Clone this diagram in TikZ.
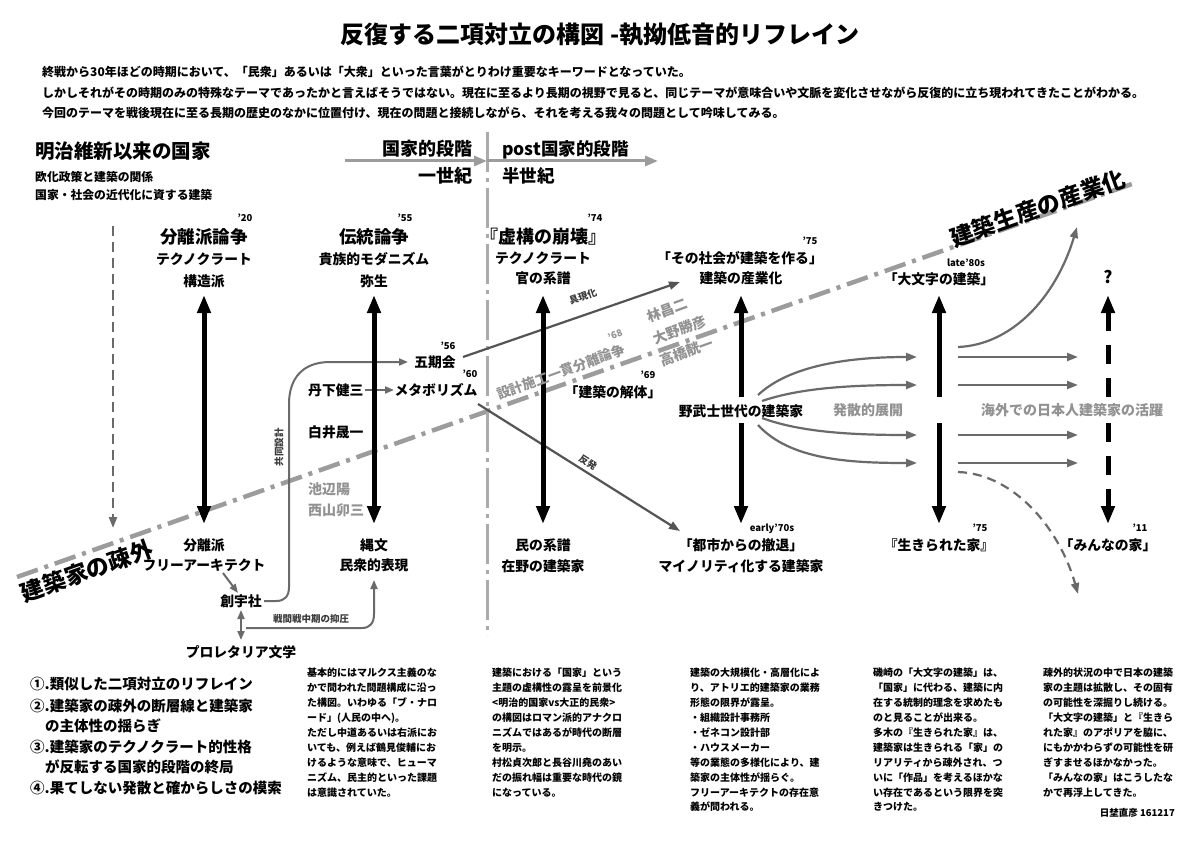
\documentclass[tikz,border=0pt]{standalone}
\usepackage{fontspec}
\setmainfont{Noto Sans CJK JP}
\usetikzlibrary{arrows.meta}
\definecolor{dashgray}{HTML}{9C9C9C}
\definecolor{vgray}{HTML}{ABABAB}
\definecolor{arrgray}{HTML}{6A6A6A}
\definecolor{darkarr}{HTML}{545454}
\definecolor{txtgray}{HTML}{929292}
\definecolor{lblgray}{HTML}{3A3A3A}
\newcommand{\fsz}[1]{\fontsize{#1}{#1}\selectfont}
\tikzset{
  bigtip/.tip={Triangle[length=18pt,width=13pt]},
  gtip/.tip={Triangle[length=11pt,width=8pt]},
  stip/.tip={Triangle[length=9pt,width=7pt]},
  tx/.style={inner sep=0pt, text=black},
  hd/.style={tx, font=\bfseries\fsz{17.5}},
  sb/.style={tx, font=\bfseries\fsz{13.8}},
  yr/.style={tx, font=\bfseries\fsz{9.5}},
  gsb/.style={inner sep=0pt, text=txtgray, font=\bfseries\fsz{14}},
  lbl/.style={inner sep=0pt, text=lblgray, font=\bfseries\fsz{9.5}},
  lst/.style={tx, anchor=west, font=\bfseries\fsz{14.5}},
  para/.style={tx, anchor=north west, align=left, font=\bfseries\fontsize{10}{14.9}\selectfont},
  intro/.style={tx, anchor=west, font=\bfseries\fsz{12}},
  bigboth/.style={draw=black, line width=5pt, bigtip-bigtip},
  bigone/.style={draw=black, line width=5pt, -bigtip},
  garr/.style={draw=arrgray, line width=2.2pt, -gtip},
  darr/.style={draw=darkarr, line width=2.2pt, -gtip},
  sarr/.style={draw=arrgray, line width=2pt, -stip},
  stagearr/.style={draw=dashgray, line width=3pt, -{Triangle[length=13pt,width=10pt]}},
  mainline/.style={draw=dashgray, line width=4.5pt, dash pattern=on 22pt off 7pt on 4pt off 7pt},
  vline/.style={draw=vgray, line width=3pt, dash pattern=on 40pt off 6pt on 4pt off 6pt},
}
\begin{document}
\begin{tikzpicture}[x=1pt,y=-1pt]
\fill[white] (0,0) rectangle (1200,848);
\useasboundingbox (0,0) rectangle (1200,848);

% ---------- coordinates ----------
\coordinate (ml0) at (17,577);
\coordinate (ml1) at (1132,184);
\coordinate (vt) at (487,132);
\coordinate (vb) at (487,636);
\coordinate (sa0) at (345,161);
\coordinate (sa1) at (487,161);
\coordinate (sa2) at (658,161);
\coordinate (ld0) at (113,226);
\coordinate (ld1) at (113,528);

% ---------- dash-dot lines ----------
\draw[mainline] (ml0) -- (ml1);
\draw[vline] (vt) -- (vb);
\draw[stagearr] (sa0) -- (sa1);
\draw[stagearr] (sa1) -- (sa2);
\draw[draw=arrgray, line width=2.3pt, dash pattern=on 10pt off 6pt, -gtip] (ld0) -- (ld1);

% ---------- gray connectors ----------
\coordinate (gk) at (463,357);
\coordinate (gu) at (680,282);
\draw[darr] (gk) -- (gu);
\coordinate (mb) at (478,404);
\coordinate (ht) at (680,531);
\draw[darr] (mb) -- (ht);
\coordinate (tg0) at (365,390);
\coordinate (tg1) at (394,390);
\draw[sarr] (tg0) -- (tg1);
\coordinate (fr0) at (223,573);
\coordinate (fr1) at (238,593);
\draw[sarr] (fr0) -- (fr1);
\coordinate (sp0) at (241,610);
\coordinate (sp1) at (241,640);
\draw[draw=arrgray, line width=2pt, stip-stip] (sp0) -- (sp1);
\coordinate (kd0) at (264,601);
\coordinate (kd1) at (408,362);
\draw[draw=arrgray, line width=2pt, -stip] (kd0) -- (276,601) .. controls (285,601) and (289,596) .. (289,587) -- (289,404) .. controls (289,378) and (303,362) .. (330,362) -- (kd1);
\coordinate (sk0) at (246,628);
\coordinate (sk1) at (374,580);
\draw[draw=arrgray, line width=2pt, -stip] (sk0) -- (362,628) .. controls (370,628) and (374,623) .. (374,614) -- (sk1);

% fan from nobushi
\coordinate (f1a) at (758,395); \coordinate (f1b) at (917,357);
\coordinate (f2a) at (762,401); \coordinate (f2b) at (917,385);
\coordinate (f3a) at (762,418); \coordinate (f3b) at (917,435);
\coordinate (f4a) at (758,425); \coordinate (f4b) at (917,463);
\draw[garr] (f1a) .. controls (790,365) and (850,357) .. (f1b);
\draw[garr] (f2a) .. controls (800,388) and (850,385) .. (f2b);
\draw[garr] (f3a) .. controls (800,432) and (850,435) .. (f3b);
\draw[garr] (f4a) .. controls (790,460) and (850,463) .. (f4b);
% from col5 to col6
\coordinate (r1a) at (958,357); \coordinate (r1b) at (1078,357);
\coordinate (r2a) at (958,385); \coordinate (r2b) at (1078,385);
\coordinate (r3a) at (958,435); \coordinate (r3b) at (1078,435);
\coordinate (r4a) at (958,463); \coordinate (r4b) at (1078,463);
\draw[garr] (r1a) -- (r1b);
\draw[garr] (r2a) -- (r2b);
\draw[garr] (r3a) -- (r3b);
\draw[garr] (r4a) -- (r4b);
\coordinate (cu0) at (958,347); \coordinate (cu1) at (1077,227);
\draw[garr] (cu0) .. controls (1010,345) and (1055,300) .. (cu1);
\coordinate (cd0) at (958,472); \coordinate (cd1) at (1078,594);
\draw[garr, dash pattern=on 9pt off 6pt] (cd0) .. controls (1015,474) and (1060,530) .. (cd1);

% ---------- black arrows ----------
\coordinate (a1t) at (204,295); \coordinate (a1b) at (204,524);
\coordinate (a2t) at (374,295); \coordinate (a2b) at (374,524);
\coordinate (a3t) at (543,295); \coordinate (a3b) at (543,524);
\draw[bigboth] (a1t) -- (a1b);
\draw[bigboth] (a2t) -- (a2b);
\draw[bigboth] (a3t) -- (a3b);
\coordinate (a4t) at (741,295); \coordinate (a4m1) at (741,397);
\coordinate (a4m2) at (741,423); \coordinate (a4b) at (741,524);
\draw[bigone] (a4m1) -- (a4t);
\draw[bigone] (a4m2) -- (a4b);
\coordinate (a5t) at (939,295); \coordinate (a5m1) at (939,397);
\coordinate (a5m2) at (939,423); \coordinate (a5b) at (939,524);
\draw[bigone] (a5m1) -- (a5t);
\draw[bigone] (a5m2) -- (a5b);
\coordinate (a6t) at (1108,295); \coordinate (a6m1) at (1108,397);
\coordinate (a6m2) at (1108,423); \coordinate (a6b) at (1108,524);
\draw[bigone, dash pattern=on 19pt off 14pt] (a6m1) -- (a6t);
\draw[bigone, dash pattern=on 19pt off 14pt] (a6m2) -- (a6b);

% ---------- header texts ----------
\node[tx, font=\bfseries\fsz{24}] (title) at (600,35) {反復する二項対立の構図 -執拗低音的リフレイン};
\node[intro] (in1) at (42,72) {終戦から30年ほどの時期において、「民衆」あるいは「大衆」といった言葉がとりわけ重要なキーワードとなっていた。};
\node[intro] (in2) at (42,93) {しかしそれがその時期のみの特殊なテーマであったかと言えばそうではない。現在に至るより長期の視野で見ると、同じテーマが意味合いや文脈を変化させながら反復的に立ち現われてきたことがわかる。};
\node[intro] (in3) at (42,113) {今回のテーマを戦後現在に至る長期の歴史のなかに位置付け、現在の問題と接続しながら、それを考える我々の問題として吟味してみる。};

\node[tx, anchor=west, font=\bfseries\fsz{19.5}] (meiji) at (35,151) {明治維新以来の国家};
\node[tx, anchor=west, font=\bfseries\fsz{11.8}] (ouka) at (35,177) {欧化政策と建築の関係};
\node[tx, anchor=west, font=\bfseries\fsz{11.8}] (kindai) at (35,195) {国家・社会の近代化に資する建築};

\node[tx, anchor=east, font=\bfseries\fsz{18}] (st1) at (473,149) {国家的段階};
\node[tx, anchor=east, font=\bfseries\fsz{18}] (st1b) at (473,176) {一世紀};
\node[tx, anchor=west, font=\bfseries\fsz{17.5}] (st2) at (502,150) {post国家的段階};
\node[tx, anchor=west, font=\bfseries\fsz{17.5}] (st2b) at (502,176) {半世紀};

% ---------- column 1 ----------
\node[yr] (y20) at (245,218) {'20};
\node[hd] (bunri) at (204,237) {分離派論争};
\node[sb] (tech1) at (204,259) {テクノクラート};
\node[sb] (kozo) at (204,281) {構造派};
\node[sb] (bunri2) at (204,545) {分離派};
\node[sb] (free) at (204,565) {フリーアーキテクト};
\node[sb] (sou) at (241,601) {創宇社};
\node[sb] (prol) at (241,652) {プロレタリア文学};
\node[lbl, rotate=90] (kyodo) at (279,447) {共同設計};
\node[lbl] (senkan) at (311,619) {戦間戦中期の抑圧};

% ---------- column 2 ----------
\node[yr] (y55) at (405,218) {'55};
\node[hd] (dento) at (374,237) {伝統論争};
\node[sb] (kizoku) at (374,259) {貴族的モダニズム};
\node[sb] (yayoi) at (374,281) {弥生};
\node[sb] (jomon) at (374,545) {縄文};
\node[sb] (minshu) at (374,565) {民衆的表現};
\node[sb, anchor=west] (tange) at (308,390) {丹下健三};
\node[sb, anchor=west] (shirai) at (308,432) {白井晟一};
\node[gsb, anchor=west] (ikebe) at (308,489) {池辺陽};
\node[gsb, anchor=west] (nishi) at (308,510) {西山卯三};
\node[sb] (gokikai) at (435,362) {五期会};
\node[yr] (y56) at (448,346) {'56};
\node[sb] (metabo) at (436,390) {メタボリズム};
\node[yr] (y60) at (470,374) {'60};

% ---------- column 3 ----------
\node[yr] (y74) at (595,218) {'74};
\node[tx, font=\bfseries\fsz{18}] (kyoko) at (543,237) {『虚構の崩壊』};
\node[sb] (tech3) at (543,258) {テクノクラート};
\node[sb] (kan) at (543,278) {官の系譜};
\node[sb] (tami) at (543,545) {民の系譜};
\node[sb] (zaiya) at (543,566) {在野の建築家};
\node[yr] (y69) at (648,375) {'69};
\node[sb] (kaitai) at (613,392) {「建築の解体」};
\node[lbl, rotate=19] (gugen) at (583,297) {具現化};
\node[lbl, rotate=-32] (hanpatsu) at (588,462) {反発};
\node[gsb, font=\bfseries\fsz{13.5}, rotate=20] (sekkei) at (561,372) {設計施工一貫分離論争};
\node[gsb, font=\bfseries\fsz{9.5}, rotate=20] (y68) at (615,335) {'68};
\node[gsb, rotate=20] (hayashi) at (667,310) {林昌二};
\node[gsb, rotate=20] (ono) at (680,330) {大野勝彦};
\node[gsb, rotate=20] (taka) at (687,352) {高橋靗一};

% ---------- column 4 ----------
\node[yr] (y75a) at (810,241) {'75};
\node[sb] (sono) at (740,258) {「その社会が建築を作る」};
\node[sb] (sangyo) at (741,278) {建築の産業化};
\node[sb] (nobushi) at (741,411) {野武士世代の建築家};
\node[yr] (e70) at (772,529) {early'70s};
\node[sb] (toshi) at (741,545) {「都市からの撤退」};
\node[sb] (minor) at (741,566) {マイノリティ化する建築家};
\node[gsb] (hassan) at (868,410) {発散的展開};

% ---------- column 5 / 6 ----------
\node[yr] (l80) at (966,263) {late'80s};
\node[sb] (omoji) at (939,279) {「大文字の建築」};
\node[yr] (y75b) at (980,528) {'75};
\node[sb] (ikira) at (939,545) {『生きられた家』};
\node[gsb] (kaigai) at (1072,410) {海外での日本人建築家の活躍};
\node[tx, font=\bfseries\fsz{17}] (q) at (1108,277) {?};
\node[yr] (y11) at (1140,528) {'11};
\node[sb] (minna) at (1108,545) {「みんなの家」};

% ---------- diagonal labels ----------
\node[tx, font=\bfseries\fsz{23}, rotate=19.5] (sogai) at (87,571) {建築家の疎外};
\node[tx, font=\bfseries\fsz{23}, rotate=19.5] (seisan) at (1038,208) {建築生産の産業化};

% ---------- bottom list ----------
\node[lst] (l1) at (30,684) {①.類似した二項対立のリフレイン};
\node[lst] (l2) at (30,706) {②.建築家の疎外の断層線と建築家};
\node[lst] (l2b) at (45,726) {の主体性の揺らぎ};
\node[lst] (l3) at (30,747) {③.建築家のテクノクラート的性格};
\node[lst] (l3b) at (45,767) {が反転する国家的段階の終局};
\node[lst] (l4) at (30,788) {④.果てしない発散と確からしさの模索};

% ---------- paragraphs ----------
\node[para] (p1) at (307,668) {基本的にはマルクス主義のな\\かで問われた問題構成に沿っ\\た構図。いわゆる「ブ・ナロ\\ード」(人民の中へ)。\\ただし中道あるいは右派にお\\いても、例えば鶴見俊輔にお\\けるような意味で、ヒューマ\\ニズム、民主的といった課題\\は意識されていた。};
\node[para] (p2) at (492,668) {建築における「国家」という\\主題の虚構性の露呈を前景化\\<明治的国家vs大正的民衆>\\の構図はロマン派的アナクロ\\ニズムではあるが時代の断層\\を明示。\\村松貞次郎と長谷川堯のあい\\だの振れ幅は重要な時代の鏡\\になっている。};
\node[para] (p3) at (690,668) {建築の大規模化・高層化によ\\り、アトリエ的建築家の業務\\形態の限界が露呈。\\・組織設計事務所\\・ゼネコン設計部\\・ハウスメーカー\\等の業態の多様化により、建\\築家の主体性が揺らぐ。\\フリーアーキテクトの存在意\\義が問われる。};
\node[para] (p4) at (873,668) {磯崎の「大文字の建築」は、\\「国家」に代わる、建築に内\\在する統制的理念を求めたも\\のと見ることが出来る。\\多木の『生きられた家』は、\\建築家は生きられる「家」の\\リアリティから疎外され、つ\\いに「作品」を考えるほかな\\い存在であるという限界を突\\きつけた。};
\node[para] (p5) at (1043,668) {疎外的状況の中で日本の建築\\家の主題は拡散し、その固有\\の可能性を深掘りし続ける。\\「大文字の建築」と『生きら\\れた家』のアポリアを脇に、\\にもかかわらずの可能性を研\\ぎすませるほかなかった。\\「みんなの家」はこうしたな\\かで再浮上してきた。};
\node[tx, anchor=east, font=\bfseries\fsz{9.5}] (sig) at (1175,813) {日埜直彦 161217};
\end{tikzpicture}
\end{document}
